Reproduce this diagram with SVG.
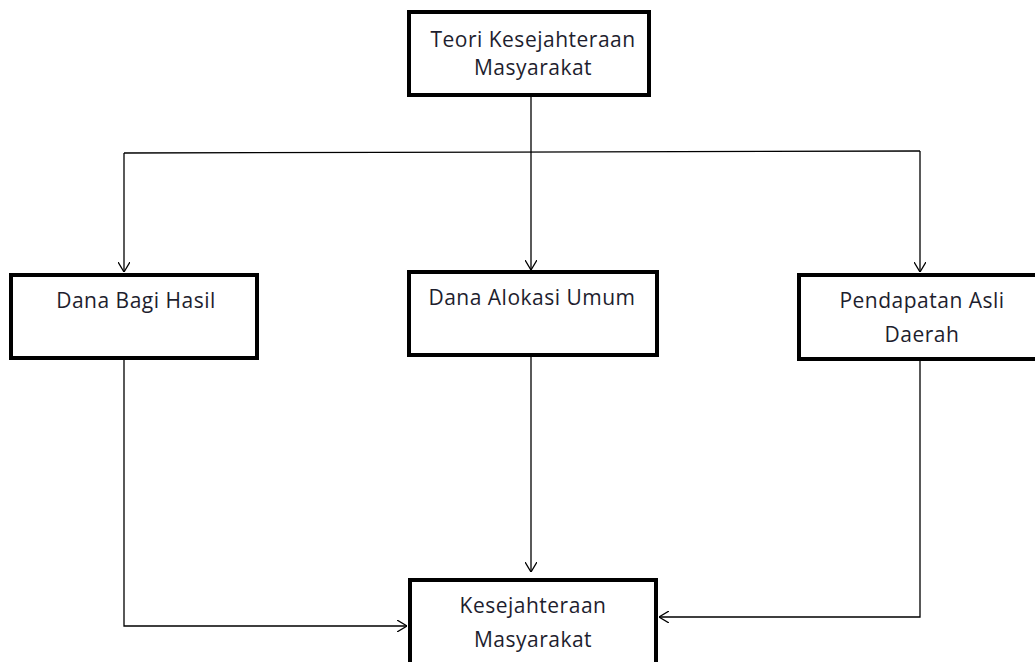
<svg xmlns="http://www.w3.org/2000/svg" width="1035" height="662" viewBox="0 0 1035 662">
<defs>
<marker id="arr" viewBox="0 0 10 12" refX="10" refY="6" markerWidth="10" markerHeight="12" markerUnits="userSpaceOnUse" orient="auto">
<path d="M0,0 L10,6 L0,12" fill="none" stroke="#000" stroke-width="1.3"/>
</marker>
<style>
.box{fill:#fff;stroke:#000;stroke-width:4}
.lbl{font-family:"Open Sans","Liberation Sans",sans-serif;font-size:21px;letter-spacing:0.5px;fill:#1e1e2e;text-anchor:middle}
.con{fill:none;stroke:#000;stroke-width:1.3}
</style>
</defs>
<rect width="1035" height="662" fill="#fff"/>
<g id="connectors">
<line class="con" x1="531" y1="95" x2="531" y2="270" marker-end="url(#arr)"/>
<line class="con" x1="124" y1="153" x2="920" y2="151"/>
<line class="con" x1="124" y1="153" x2="124" y2="272" marker-end="url(#arr)"/>
<line class="con" x1="920" y1="151" x2="920" y2="272" marker-end="url(#arr)"/>
<line class="con" x1="531" y1="357" x2="531" y2="572" marker-end="url(#arr)"/>
<polyline class="con" points="124,360 124,626 407,626" marker-end="url(#arr)"/>
<polyline class="con" points="920,360 920,617 659,617" marker-end="url(#arr)"/>
</g>
<g id="teori">
<rect class="box" x="409" y="12" width="240" height="83"/>
<text class="lbl" x="533" y="47">Teori Kesejahteraan</text>
<text class="lbl" x="533" y="75">Masyarakat</text>
</g>
<g id="dbh">
<rect class="box" x="11" y="275" width="246" height="83"/>
<text class="lbl" x="136" y="308">Dana Bagi Hasil</text>
</g>
<g id="dau">
<rect class="box" x="409" y="272" width="248" height="83"/>
<text class="lbl" x="532" y="305">Dana Alokasi Umum</text>
</g>
<g id="pad">
<rect class="box" x="799" y="275" width="250" height="84"/>
<text class="lbl" x="922" y="308">Pendapatan Asli</text>
<text class="lbl" x="922" y="342">Daerah</text>
</g>
<g id="km">
<rect class="box" x="410" y="580" width="246" height="100"/>
<text class="lbl" x="533" y="613">Kesejahteraan</text>
<text class="lbl" x="533" y="647">Masyarakat</text>
</g>
</svg>
